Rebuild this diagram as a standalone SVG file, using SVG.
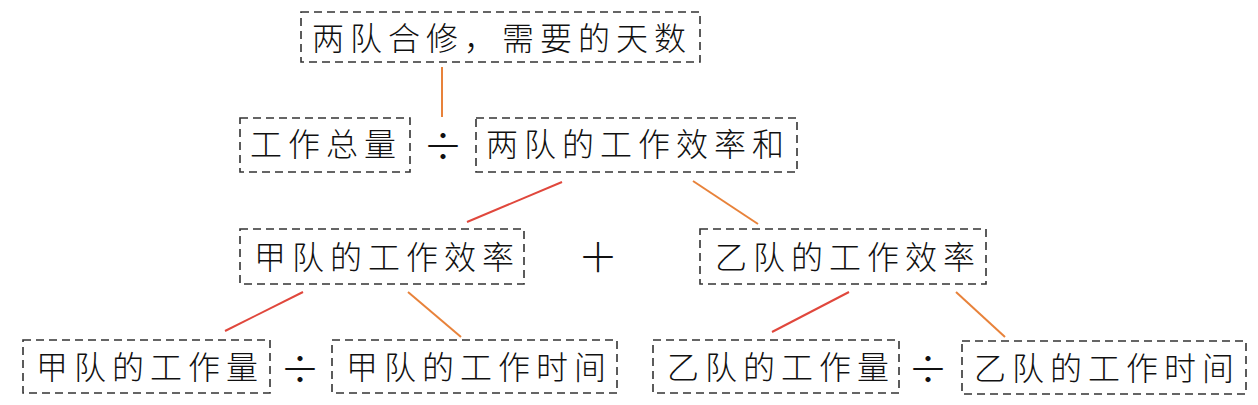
<svg xmlns="http://www.w3.org/2000/svg" width="1258" height="405" viewBox="0 0 1258 405">
<style>
.box{fill:none;stroke:#333;stroke-width:1.6;stroke-dasharray:8 5}
.t{font-family:"Noto Sans CJK SC","Noto Sans CJK JP",sans-serif;font-size:32px;font-weight:300;letter-spacing:6px;fill:#111}
.op{font-family:"Noto Sans CJK SC",sans-serif;font-size:40px;font-weight:300;fill:#111;text-anchor:middle}
.r{stroke:#e0473c;stroke-width:2;fill:none}
.o{stroke:#e8823a;stroke-width:2;fill:none}
</style>
<rect width="1258" height="405" fill="#fff"/>
<g id="connectors">
<line class="o" x1="442" y1="67" x2="442" y2="117"/>
<line class="r" x1="562" y1="182" x2="467" y2="222"/>
<line class="o" x1="693" y1="181" x2="758" y2="224"/>
<line class="r" x1="303" y1="292" x2="225" y2="331"/>
<line class="o" x1="408" y1="292" x2="461" y2="337"/>
<line class="r" x1="849" y1="292" x2="772" y2="332"/>
<line class="o" x1="956" y1="292" x2="1005" y2="337"/>
</g>
<g id="n_top"><rect class="box" x="301" y="12" width="399" height="50"/><text class="t" x="312" y="50">两队合修，需要的天数</text></g>
<g id="n_total"><rect class="box" x="240" y="118" width="170" height="54"/><text class="t" x="250" y="156">工作总量</text></g>
<g id="op1"><text class="op" x="443" y="161">÷</text></g>
<g id="n_sum"><rect class="box" x="476" y="118" width="321" height="54"/><text class="t" x="486" y="156">两队的工作效率和</text></g>
<g id="n_jia"><rect class="box" x="240" y="229" width="284" height="55"/><text class="t" x="254" y="269">甲队的工作效率</text></g>
<g id="op2"><text class="op" x="598" y="272">＋</text></g>
<g id="n_yi"><rect class="box" x="700" y="229" width="286" height="55"/><text class="t" x="715" y="269">乙队的工作效率</text></g>
<g id="n_jia_w"><rect class="box" x="23" y="340" width="247" height="53"/><text class="t" x="36" y="379">甲队的工作量</text></g>
<g id="op3"><text class="op" x="300" y="384">÷</text></g>
<g id="n_jia_t"><rect class="box" x="332" y="340" width="285" height="53"/><text class="t" x="346" y="379">甲队的工作时间</text></g>
<g id="n_yi_w"><rect class="box" x="653" y="340" width="246" height="53"/><text class="t" x="667" y="379">乙队的工作量</text></g>
<g id="op4"><text class="op" x="928" y="384">÷</text></g>
<g id="n_yi_t"><rect class="box" x="962" y="341" width="284" height="53"/><text class="t" x="974" y="380">乙队的工作时间</text></g>
</svg>
